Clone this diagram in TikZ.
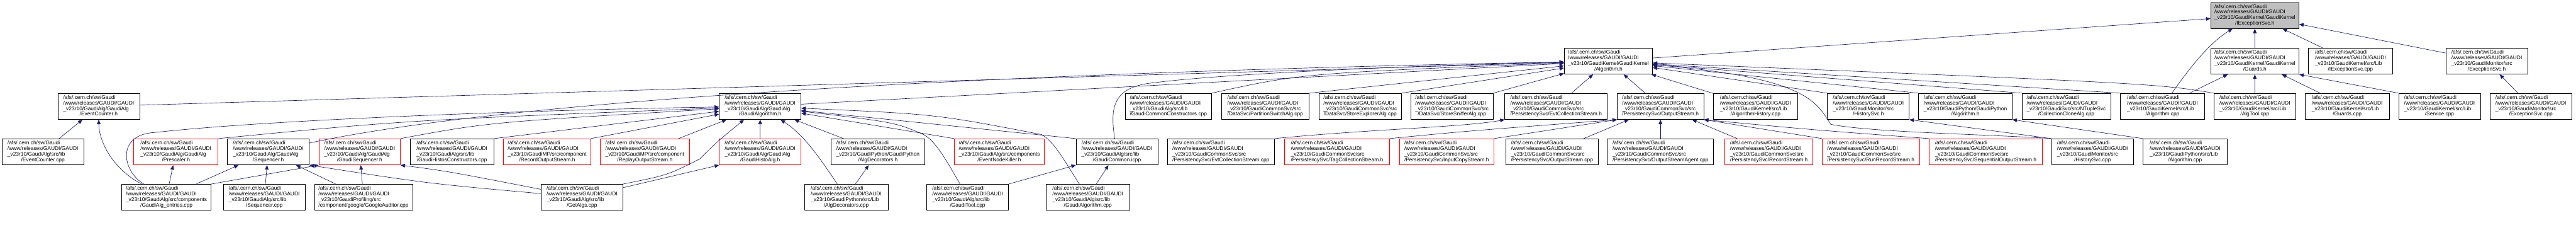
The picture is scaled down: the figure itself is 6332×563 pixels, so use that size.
\documentclass[tikz,border=0pt]{standalone}
\usepackage{fontspec}
\setmainfont{Liberation Sans}
\usetikzlibrary{arrows.meta}
\definecolor{edgeblue}{HTML}{191970}
\definecolor{rootgray}{HTML}{BFBFBF}
\newcommand\gtxt[2]{\begin{tabular}{@{}l@{}}/afs/.cern.ch/sw/Gaudi\\/www/releases/GAUDI/GAUDI\\#1\\\multicolumn{1}{@{}c@{}}{#2}\end{tabular}}
\tikzset{
  box/.style={draw=black, line width=1.1pt, fill=white, inner sep=0pt, minimum height=64pt, font=\fontsize{13}{13.7}\selectfont, text=black},
  rbox/.style={box, draw=red},
  rootbox/.style={box, fill=rootgray},
  edge/.style={draw=edgeblue, line width=1pt, -{Triangle[length=11pt,width=9pt]}}
}
\begin{document}
\begin{tikzpicture}[x=1pt,y=-1pt]
\useasboundingbox (0,0) rectangle (6332,563);
% row 0
\node[rootbox, minimum width=217pt] (iexch) at (5542.5,38) {\gtxt{\_v23r10/GaudiKernel/GaudiKernel}{/IExceptionSvc.h}};
% row 1
\node[box, minimum width=217pt] (algoh) at (3953.5,150) {\gtxt{\_v23r10/GaudiKernel/GaudiKernel}{/Algorithm.h}};
\node[box, minimum width=217pt] (guardsh) at (5542.5,150) {\gtxt{\_v23r10/GaudiKernel/GaudiKernel}{/Guards.h}};
\node[box, minimum width=207pt] (iexccpp) at (5777.5,150) {\gtxt{\_v23r10/GaudiKernel/src/Lib}{/IExceptionSvc.cpp}};
\node[box, minimum width=201pt] (excsvch) at (6112.5,150) {\gtxt{\_v23r10/GaudiMonitor/src}{/ExceptionSvc.h}};
% row 2
\node[box, minimum width=201pt] (eventcounterh) at (242.5,261) {\gtxt{\_v23r10/GaudiAlg/GaudiAlg}{/EventCounter.h}};
\node[box, minimum width=201pt] (gaudialgorithmh) at (1868.5,261) {\gtxt{\_v23r10/GaudiAlg/GaudiAlg}{/GaudiAlgorithm.h}};
\node[box, minimum width=212pt] (commonctor) at (2872,261) {\gtxt{\_v23r10/GaudiAlg/src/lib}{/GaudiCommonConstructors.cpp}};
\node[box, minimum width=216pt] (partswitch) at (3110,261) {\gtxt{\_v23r10/GaudiCommonSvc/src}{/DataSvc/PartitionSwitchAlg.cpp}};
\node[box, minimum width=203pt] (storeexpl) at (3343.5,261) {\gtxt{\_v23r10/GaudiCommonSvc/src}{/DataSvc/StoreExplorerAlg.cpp}};
\node[box, minimum width=202pt] (storesniff) at (3569,261) {\gtxt{\_v23r10/GaudiCommonSvc/src}{/DataSvc/StoreSnifferAlg.cpp}};
\node[box, minimum width=252pt] (evtcollh) at (3825,261) {\gtxt{\_v23r10/GaudiCommonSvc/src}{/PersistencySvc/EvtCollectionStream.h}};
\node[box, minimum width=213pt] (outstreamh) at (4081.5,261) {\gtxt{\_v23r10/GaudiCommonSvc/src}{/PersistencySvc/OutputStream.h}};
\node[box, minimum width=206pt] (alghistcpp) at (4315,261) {\gtxt{\_v23r10/GaudiKernel/src/Lib}{/AlgorithmHistory.cpp}};
\node[box, minimum width=201pt] (histsvch) at (4592.5,261) {\gtxt{\_v23r10/GaudiMonitor/src}{/HistorySvc.h}};
\node[box, minimum width=230pt] (gpalgh) at (4831,261) {\gtxt{\_v23r10/GaudiPython/GaudiPython}{/Algorithm.h}};
\node[box, minimum width=218pt] (collclone) at (5079,261) {\gtxt{\_v23r10/GaudiSvc/src/NTupleSvc}{/CollectionCloneAlg.cpp}};
\node[box, minimum width=207pt] (algcpp) at (5315.5,261) {\gtxt{\_v23r10/GaudiKernel/src/Lib}{/Algorithm.cpp}};
\node[box, minimum width=201pt] (algtoolcpp) at (5542.5,261) {\gtxt{\_v23r10/GaudiKernel/src/Lib}{/AlgTool.cpp}};
\node[box, minimum width=207pt] (guardscpp) at (5769.5,261) {\gtxt{\_v23r10/GaudiKernel/src/Lib}{/Guards.cpp}};
\node[box, minimum width=201pt] (servicecpp) at (5996.5,261) {\gtxt{\_v23r10/GaudiKernel/src/Lib}{/Service.cpp}};
\node[box, minimum width=202pt] (excsvccpp) at (6221,261) {\gtxt{\_v23r10/GaudiMonitor/src}{/ExceptionSvc.cpp}};
% row 3
\node[box, minimum width=201pt] (eventcountercpp) at (105.5,372.5) {\gtxt{\_v23r10/GaudiAlg/src/lib}{/EventCounter.cpp}};
\node[rbox, minimum width=207pt] (prescalerh) at (432.5,372.5) {\gtxt{\_v23r10/GaudiAlg/GaudiAlg}{/Prescaler.h}};
\node[box, minimum width=201pt] (sequencerh) at (659.5,372.5) {\gtxt{\_v23r10/GaudiAlg/GaudiAlg}{/Sequencer.h}};
\node[rbox, minimum width=200pt] (gaudiseqh) at (884,372.5) {\gtxt{\_v23r10/GaudiAlg/GaudiAlg}{/GaudiSequencer.h}};
\node[box, minimum width=206pt] (histosctor) at (1111,372.5) {\gtxt{\_v23r10/GaudiAlg/src/lib}{/GaudiHistosConstructors.cpp}};
\node[rbox, minimum width=214pt] (recordouth) at (1345,372.5) {\gtxt{\_v23r10/GaudiMP/src/component}{/RecordOutputStream.h}};
\node[rbox, minimum width=220pt] (replayouth) at (1585,372.5) {\gtxt{\_v23r10/GaudiMP/src/component}{/ReplayOutputStream.h}};
\node[rbox, minimum width=201pt] (gaudihistoalgh) at (1868.5,372.5) {\gtxt{\_v23r10/GaudiAlg/GaudiAlg}{/GaudiHistoAlg.h}};
\node[box, minimum width=230pt] (algdech) at (2158,372.5) {\gtxt{\_v23r10/GaudiPython/GaudiPython}{/AlgDecorators.h}};
\node[rbox, minimum width=221pt] (eventnodekillerh) at (2456.5,372.5) {\gtxt{\_v23r10/GaudiAlg/src/components}{/EventNodeKiller.h}};
\node[box, minimum width=201pt] (commonicpp) at (2745.5,372.5) {\gtxt{\_v23r10/GaudiAlg/src/lib}{/GaudiCommon.icpp}};
\node[box, minimum width=264pt] (evtcollcpp) at (3001,372.5) {\gtxt{\_v23r10/GaudiCommonSvc/src}{/PersistencySvc/EvtCollectionStream.cpp}};
\node[rbox, minimum width=257pt] (tagcollh) at (3286.5,372.5) {\gtxt{\_v23r10/GaudiCommonSvc/src}{/PersistencySvc/TagCollectionStream.h}};
\node[rbox, minimum width=232pt] (inputcopyh) at (3556,372.5) {\gtxt{\_v23r10/GaudiCommonSvc/src}{/PersistencySvc/InputCopyStream.h}};
\node[box, minimum width=226pt] (outstreamcpp) at (3815,372.5) {\gtxt{\_v23r10/GaudiCommonSvc/src}{/PersistencySvc/OutputStream.cpp}};
\node[box, minimum width=261pt] (outstreamagent) at (4081.5,372.5) {\gtxt{\_v23r10/GaudiCommonSvc/src}{/PersistencySvc/OutputStreamAgent.cpp}};
\node[rbox, minimum width=216pt] (recordstreamh) at (4348,372.5) {\gtxt{\_v23r10/GaudiCommonSvc/src}{/PersistencySvc/RecordStream.h}};
\node[rbox, minimum width=239pt] (runrecordh) at (4598.5,372.5) {\gtxt{\_v23r10/GaudiCommonSvc/src}{/PersistencySvc/RunRecordStream.h}};
\node[rbox, minimum width=278pt] (seqoutstreamh) at (4881,372.5) {\gtxt{\_v23r10/GaudiCommonSvc/src}{/PersistencySvc/SequentialOutputStream.h}};
\node[box, minimum width=201pt] (histsvccpp) at (5143.5,372.5) {\gtxt{\_v23r10/GaudiMonitor/src}{/HistorySvc.cpp}};
\node[box, minimum width=206pt] (gpalgcpp) at (5371,372.5) {\gtxt{\_v23r10/GaudiPython/src/Lib}{/Algorithm.cpp}};
% row 4
\node[box, minimum width=220pt] (entriescpp) at (409,484) {\gtxt{\_v23r10/GaudiAlg/src/components}{/GaudiAlg\_entries.cpp}};
\node[box, minimum width=201pt] (sequencercpp) at (649.5,484) {\gtxt{\_v23r10/GaudiAlg/src/lib}{/Sequencer.cpp}};
\node[box, minimum width=241pt] (googleaud) at (893.5,484) {\gtxt{\_v23r10/GaudiProfiling/src}{/component/google/GoogleAuditor.cpp}};
\node[box, minimum width=201pt] (getalgs) at (1430.5,484) {\gtxt{\_v23r10/GaudiAlg/src/lib}{/GetAlgs.cpp}};
\node[box, minimum width=206pt] (algdeccpp) at (2080,484) {\gtxt{\_v23r10/GaudiPython/src/Lib}{/AlgDecorators.cpp}};
\node[box, minimum width=201pt] (gaudtoolcpp) at (2378.5,484) {\gtxt{\_v23r10/GaudiAlg/src/lib}{/GaudiTool.cpp}};
\node[box, minimum width=206pt] (gaudialgcpp) at (2674,484) {\gtxt{\_v23r10/GaudiAlg/src/lib}{/GaudiAlgorithm.cpp}};

% edges to IExceptionSvc.h
\draw[edge] (algoh) -- (iexch);
\draw[edge] (algcpp) .. controls (5380,170) and (5430,105) .. (iexch);
\draw[edge] (guardsh) -- (iexch);
\draw[edge] (iexccpp) -- (iexch);
\draw[edge] (excsvch) -- (iexch);
% Guards.h
\draw[edge] (algcpp) -- (guardsh);
\draw[edge] (algtoolcpp) -- (guardsh);
\draw[edge] (guardscpp) -- (guardsh);
\draw[edge] (servicecpp.north west) -- (guardsh.south east);
\draw[edge] (excsvccpp) -- (excsvch);
% Algorithm.h
\draw[edge] (eventcounterh) -- (algoh);
\draw[edge] (sequencerh) .. controls (1300,235) and (2600,175) .. (algoh);
\draw[edge] (gaudialgorithmh) -- (algoh);
\draw[edge] (commonicpp) .. controls (2727,260) and (2740,218) .. (2820,205) .. controls (3000,180) and (3500,160) .. (algoh);
\draw[edge] (commonctor.north east) .. controls (3200,180) .. (algoh);
\draw[edge] (partswitch.north east) -- (algoh);
\draw[edge] (storeexpl.north east) -- (algoh);
\draw[edge] (storesniff.north east) -- (algoh);
\draw[edge] (evtcollh) -- (algoh);
\draw[edge] (outstreamh) -- (algoh);
\draw[edge] (alghistcpp) -- (algoh);
\draw[edge] (histsvch.north west) -- (algoh);
\draw[edge] (gpalgh.north west) -- (algoh);
\draw[edge] (collclone.north west) -- (algoh);
\draw[edge] (algcpp.north west) -- (algoh);
\draw[edge] (algtoolcpp.north west) .. controls (5300,205) .. (algoh);
\draw[edge] (histsvccpp.north west) .. controls (4900,330) and (4600,325) .. (4500,305) .. controls (4465,250) and (4440,190) .. (algoh);
% EventCounter.h
\draw[edge] (eventcountercpp) -- (eventcounterh);
\draw[edge] (entriescpp) .. controls (270,410) and (243,340) .. (eventcounterh);
% GaudiAlg_entries
\draw[edge] (entriescpp) -- (prescalerh);
\draw[edge] (entriescpp) -- (sequencerh);
\draw[edge] (entriescpp.north east) -- (gaudiseqh.south west);
\draw[edge] (entriescpp) .. controls (300,420) and (285,330) .. (380,325) .. controls (700,290) and (1400,268) .. (gaudialgorithmh);
% GaudiAlgorithm.h
\draw[edge] (prescalerh.north east) .. controls (1000,295) .. (gaudialgorithmh);
\draw[edge] (gaudiseqh.north east) .. controls (1200,300) .. (gaudialgorithmh);
\draw[edge] (histosctor.north east) -- (gaudialgorithmh);
\draw[edge] (recordouth.north east) -- (gaudialgorithmh);
\draw[edge] (replayouth) -- (gaudialgorithmh);
\draw[edge] (gaudihistoalgh) -- (gaudialgorithmh);
\draw[edge] (getalgs.north east) .. controls (1640,430) .. (1720,390) .. controls (1760,350) .. (gaudialgorithmh);
\draw[edge] (getalgs) -- (gaudihistoalgh.south west);
\draw[edge] (getalgs) .. controls (1050,450) .. (sequencerh.south east);
\draw[edge] (getalgs) .. controls (1100,420) .. (gaudiseqh.south east);
\draw[edge] (sequencercpp) -- (sequencerh);
\draw[edge] (googleaud) -- (sequencerh);
\draw[edge] (googleaud) -- (gaudiseqh);
\draw[edge] (algdeccpp) .. controls (2010,380) and (1975,330) .. (gaudialgorithmh);
\draw[edge] (algdech) -- (gaudialgorithmh);
\draw[edge] (algdeccpp) -- (algdech);
\draw[edge] (eventnodekillerh.north west) -- (gaudialgorithmh);
\draw[edge] (commonicpp.north west) -- (gaudialgorithmh);
\draw[edge] (gaudtoolcpp) .. controls (2330,400) and (2300,345) .. (2270,330) .. controls (2200,300) .. (gaudialgorithmh);
\draw[edge] (gaudialgcpp) .. controls (2620,400) and (2590,345) .. (2560,330) .. controls (2300,280) .. (gaudialgorithmh);
\draw[edge] (gaudtoolcpp.north east) -- (commonicpp.south west);
\draw[edge] (gaudialgcpp) -- (commonicpp);
% persistency
\draw[edge] (evtcollcpp.north east) .. controls (3350,318) and (3600,312) .. (evtcollh.south west);
\draw[edge] (tagcollh.north east) .. controls (3600,322) .. (outstreamh.south west);
\draw[edge] (inputcopyh.north east) -- (outstreamh.south west);
\draw[edge] (outstreamcpp) -- (outstreamh);
\draw[edge] (outstreamagent) -- (outstreamh);
\draw[edge] (recordstreamh) -- (outstreamh);
\draw[edge] (runrecordh.north west) -- (outstreamh.south east);
\draw[edge] (seqoutstreamh.north west) .. controls (4450,318) .. (outstreamh.south east);
\draw[edge] (histsvccpp.north west) -- (histsvch.south east);
\draw[edge] (gpalgcpp.north west) -- (gpalgh.south east);
\end{tikzpicture}
\end{document}
